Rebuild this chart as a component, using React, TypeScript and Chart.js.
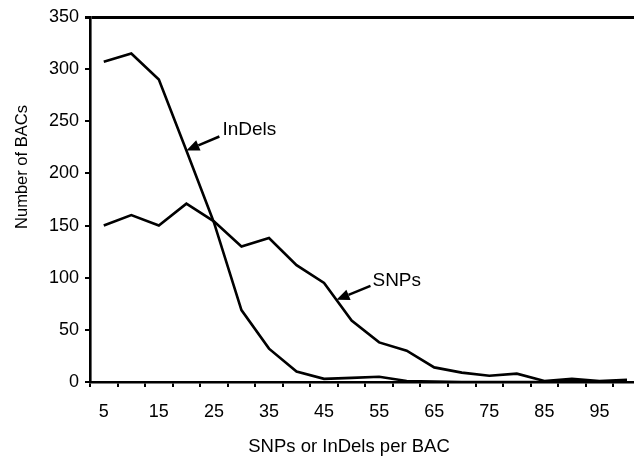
import React, { useEffect, useRef } from "react";
import { Chart, registerables } from "chart.js";

Chart.register(...registerables);

const categories = ["5", "10", "15", "20", "25", "30", "35", "40", "45", "50", "55", "60", "65", "70", "75", "80", "85", "90", "95", "100"];
const indels = [307, 315, 290, 222, 153, 69, 32, 10, 3, 4, 5, 1, 0.5, 0, 0, 0, 0, 1, 0, 1];
const snps = [150, 160, 150, 171, 154, 130, 138, 112, 95, 59, 38, 30, 14, 9, 6, 8, 1, 3, 1, 2];
const yMin = 0;
const yMax = 350;
const yStep = 50;
const xTitle = "SNPs or InDels per BAC";
const yTitle = "Number of BACs";
const FONT = "'Liberation Sans', Arial, Helvetica, sans-serif";

// annotation labels: anchor on a series at a (fractional) category index
const annotations = [
  { text: "InDels", series: indels, at: 3, tail: [33, -14], label: [36, -15] },
  { text: "SNPs", series: snps, at: 8.45, tail: [34, -14], label: [36, -14] },
];

const interp = (arr: number[], at: number) => {
  const i = Math.floor(at);
  const f = at - i;
  if (i >= arr.length - 1) return arr[arr.length - 1];
  return arr[i] + f * (arr[i + 1] - arr[i]);
};

const overlayPlugin = {
  id: "overlay",
  afterDraw(chart: any) {
    const ctx = chart.ctx;
    const xs = chart.scales.x;
    const ys = chart.scales.y;
    ctx.save();
    ctx.fillStyle = "#000";
    ctx.strokeStyle = "#000";
    for (const a of annotations) {
      const tx = xs.getPixelForValue(a.at);
      const ty = ys.getPixelForValue(interp(a.series, a.at));
      const sx = tx + a.tail[0];
      const sy = ty + a.tail[1];
      const ang = Math.atan2(ty - sy, tx - sx);
      const hl = 13;
      const hw = 5.5;
      const bx = tx - hl * Math.cos(ang);
      const by = ty - hl * Math.sin(ang);
      ctx.lineWidth = 2.5;
      ctx.beginPath();
      ctx.moveTo(sx, sy);
      ctx.lineTo(bx, by);
      ctx.stroke();
      ctx.beginPath();
      ctx.moveTo(tx, ty);
      ctx.lineTo(bx + hw * Math.sin(ang), by - hw * Math.cos(ang));
      ctx.lineTo(bx - hw * Math.sin(ang), by + hw * Math.cos(ang));
      ctx.closePath();
      ctx.fill();
      ctx.font = `19px ${FONT}`;
      ctx.textAlign = "left";
      ctx.textBaseline = "alphabetic";
      ctx.fillText(a.text, tx + a.label[0], ty + a.label[1]);
    }
    ctx.font = `18.5px ${FONT}`;
    ctx.textAlign = "center";
    ctx.textBaseline = "alphabetic";
    ctx.fillText(xTitle, 349, 452);
    ctx.save();
    ctx.translate(22, 167);
    ctx.rotate(-Math.PI / 2);
    ctx.font = `16.5px ${FONT}`;
    ctx.textBaseline = "middle";
    ctx.fillText(yTitle, 0, 0);
    ctx.restore();
    ctx.restore();
  },
};

export default function App() {
  const ref = useRef<HTMLCanvasElement | null>(null);
  useEffect(() => {
    document.documentElement.style.overflow = "hidden";
    document.body.style.overflow = "hidden";
    const canvas = ref.current;
    if (!canvas) return;
    const chart = new Chart(canvas, {
      type: "line",
      data: {
        labels: categories,
        datasets: [
          { label: "InDels", data: indels, borderColor: "#000", borderWidth: 2.6, pointRadius: 0, tension: 0, fill: false },
          { label: "SNPs", data: snps, borderColor: "#000", borderWidth: 2.6, pointRadius: 0, tension: 0, fill: false },
        ],
      },
      options: {
        responsive: false,
        animation: false,
        devicePixelRatio: 1,
        layout: { padding: { top: 17, left: 0, right: 0, bottom: 0 } },
        plugins: { legend: { display: false }, tooltip: { enabled: false }, title: { display: false } },
        scales: {
          x: {
            type: "category",
            offset: true,
            grid: { offset: true, drawOnChartArea: false, drawTicks: true, tickLength: 5, tickColor: "#000", lineWidth: 2 },
            border: { color: "#000", width: 2.6 },
            ticks: {
              autoSkip: false,
              maxRotation: 0,
              padding: 14,
              color: "#000",
              font: { family: FONT, size: 18 },
              callback: (_v: any, i: number) => (i % 2 === 0 ? categories[i] : ""),
            },
            afterFit: (s: any) => {
              s.height = 74;
            },
          },
          y: {
            min: yMin,
            max: yMax,
            grid: {
              drawOnChartArea: true,
              drawTicks: true,
              tickLength: 5,
              color: (c: any) => (c.tick && c.tick.value === yMax ? "#000" : "rgba(0,0,0,0)"),
              tickColor: "#000",
              lineWidth: (c: any) => (c.tick && c.tick.value === yMax ? 3 : 2),
            },
            border: { color: "#000", width: 2.6 },
            ticks: { stepSize: yStep, padding: 6, color: "#000", font: { family: FONT, size: 18 } },
            afterFit: (s: any) => {
              s.width = 90;
            },
          },
        },
      },
      plugins: [overlayPlugin],
    });
    return () => chart.destroy();
  }, []);
  return (
    <canvas
      ref={ref}
      width={641}
      height={456}
      style={{ position: "fixed", left: 0, top: 0, width: 641, height: 456, display: "block", background: "#fff" }}
    />
  );
}
